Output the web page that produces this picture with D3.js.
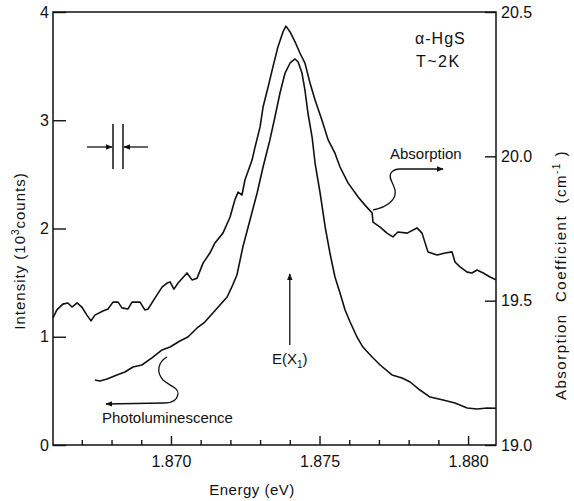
<!DOCTYPE html>
<html>
<head>
<meta charset="utf-8">
<script src="https://cdnjs.cloudflare.com/ajax/libs/d3/7.8.5/d3.min.js"></script>
<style>
  body { margin: 0; background: #fff; }
  svg { display: block; }
  text { font-family: "Liberation Sans", Arial, sans-serif; fill: #111; }
</style>
</head>
<body>
<div id="chart"></div>
<script>
// absorption trace: energy (eV) and coefficient (right axis)
const absEnergy = [1.86603, 1.86616, 1.86636, 1.86653, 1.86667, 1.86684, 1.86700, 1.86717, 1.86731, 1.86744,
  1.86771, 1.86788, 1.86805, 1.86822, 1.86835, 1.86855, 1.86869, 1.86896, 1.86912, 1.86923,
  1.86946, 1.86970, 1.86987, 1.86997, 1.87010, 1.87024, 1.87054, 1.87071, 1.87088, 1.87108,
  1.87131, 1.87148, 1.87175, 1.87199, 1.87215, 1.87226, 1.87239, 1.87249, 1.87273, 1.87283,
  1.87300, 1.87310, 1.87327, 1.87343, 1.87360, 1.87377, 1.87387, 1.87401, 1.87418, 1.87434,
  1.87451, 1.87468, 1.87485, 1.87508, 1.87529, 1.87552, 1.87569, 1.87596, 1.87630, 1.87653,
  1.87677, 1.87680, 1.87704, 1.87727, 1.87747, 1.87764, 1.87795, 1.87828, 1.87845, 1.87865,
  1.87896, 1.87923, 1.87946, 1.87956, 1.87973, 1.87997, 1.88013, 1.88030, 1.88051, 1.88074, 1.88094];
const absCoef = [19.440, 19.468, 19.488, 19.492, 19.478, 19.492, 19.478, 19.450, 19.430, 19.450,
  19.464, 19.471, 19.495, 19.495, 19.475, 19.471, 19.495, 19.495, 19.468, 19.471,
  19.509, 19.547, 19.561, 19.565, 19.540, 19.561, 19.596, 19.572, 19.578, 19.630,
  19.665, 19.700, 19.734, 19.790, 19.849, 19.876, 19.866, 19.918, 19.987, 20.032,
  20.102, 20.171, 20.240, 20.309, 20.379, 20.431, 20.451, 20.431, 20.396, 20.358,
  20.323, 20.254, 20.195, 20.126, 20.057, 20.011, 19.963, 19.908, 19.859, 19.831,
  19.804, 19.772, 19.755, 19.734, 19.721, 19.738, 19.734, 19.752, 19.734, 19.669,
  19.658, 19.665, 19.669, 19.634, 19.617, 19.599, 19.596, 19.606, 19.596, 19.582, 19.572];

// photoluminescence trace: energy (eV) and intensity (10^3 counts, left axis)
const plEnergy = [1.86744, 1.86761, 1.86785, 1.86818, 1.86845, 1.86872, 1.86902, 1.86936, 1.86970, 1.86997,
  1.87030, 1.87057, 1.87088, 1.87114, 1.87141, 1.87165, 1.87189, 1.87205, 1.87222, 1.87242,
  1.87266, 1.87290, 1.87310, 1.87333, 1.87350, 1.87367, 1.87384, 1.87401, 1.87418, 1.87428,
  1.87441, 1.87451, 1.87461, 1.87475, 1.87485, 1.87502, 1.87519, 1.87535, 1.87552, 1.87569,
  1.87586, 1.87603, 1.87626, 1.87646, 1.87677, 1.87704, 1.87744, 1.87778, 1.87805, 1.87838,
  1.87872, 1.87916, 1.87956, 1.87997, 1.88030, 1.88064, 1.88094];
const plIntensity = [0.600, 0.591, 0.610, 0.647, 0.674, 0.721, 0.739, 0.804, 0.878, 0.905,
  0.961, 0.998, 1.081, 1.136, 1.219, 1.293, 1.367, 1.460, 1.570, 1.829,
  2.079, 2.328, 2.568, 2.818, 3.030, 3.252, 3.436, 3.529, 3.566, 3.538,
  3.436, 3.279, 3.067, 2.845, 2.605, 2.328, 2.014, 1.774, 1.552, 1.404,
  1.247, 1.136, 0.998, 0.905, 0.813, 0.739, 0.647, 0.619, 0.582, 0.508,
  0.443, 0.416, 0.388, 0.342, 0.333, 0.342, 0.340];

const intensityTicks = [0, 1, 2, 3, 4];
const coefTicks = [19.0, 19.5, 20.0, 20.5];
const energyMajor = [1.870, 1.875, 1.880];
const energyMinor = [1.867, 1.868, 1.869, 1.871, 1.872, 1.873, 1.874, 1.876, 1.877, 1.878, 1.879];
const excitonEnergy = 1.8740;

const width = 574;
const height = 501;
const margin = { top: 12, right: 78, bottom: 56, left: 53 };

const x = d3.scaleLinear().domain([1.86603, 1.88094]).range([margin.left, width - margin.right]);
const y = d3.scaleLinear().domain([0, 4]).range([height - margin.bottom, margin.top]);
const yR = d3.scaleLinear().domain([19.0, 20.5]).range([height - margin.bottom, margin.top]);

const svg = d3.select("#chart")
    .append("svg")
    .attr("width", width)
    .attr("height", height);

// frame
svg.append("rect")
    .attr("x", margin.left)
    .attr("y", margin.top)
    .attr("width", width - margin.left - margin.right)
    .attr("height", height - margin.top - margin.bottom)
    .attr("fill", "none")
    .attr("stroke", "#111")
    .attr("stroke-width", 1.5);

function styleAxis(g) {
    g.select(".domain").remove();
    g.selectAll("line").attr("stroke", "#111").attr("stroke-width", 1.4);
    g.selectAll("text").attr("font-size", 16).attr("fill", "#111")
        .style("font-family", "'Liberation Sans', Arial, sans-serif");
}

svg.append("g")
    .attr("transform", `translate(${margin.left},0)`)
    .call(d3.axisLeft(y).tickValues(intensityTicks).tickSize(-13).tickPadding(4).tickFormat(d3.format("d")))
    .call(styleAxis);

svg.append("g")
    .attr("transform", `translate(${width - margin.right},0)`)
    .call(d3.axisRight(yR).tickValues(coefTicks).tickSize(-11).tickPadding(5).tickFormat(d3.format(".1f")))
    .call(styleAxis);

svg.append("g")
    .attr("transform", `translate(0,${height - margin.bottom})`)
    .call(d3.axisBottom(x).tickValues(energyMinor).tickSize(-5).tickFormat(""))
    .call(styleAxis);

svg.append("g")
    .attr("transform", `translate(0,${height - margin.bottom})`)
    .call(d3.axisBottom(x).tickValues(energyMajor).tickSize(-9).tickPadding(11).tickFormat(d3.format(".3f")))
    .call(styleAxis);

// axis titles
svg.append("text")
    .attr("transform", `translate(25,251) rotate(-90)`)
    .attr("text-anchor", "middle")
    .attr("font-size", 15)
    .attr("letter-spacing", 1)
    .html('Intensity (10<tspan dy="-6" font-size="10">3</tspan><tspan dy="6">counts)</tspan>');

svg.append("text")
    .attr("transform", `translate(566,275) rotate(-90)`)
    .attr("text-anchor", "middle")
    .attr("font-size", 15)
    .attr("letter-spacing", 1.5)
    .html('Absorption&#160; Coefficient&#160; (cm<tspan dy="-6" font-size="10">-1</tspan><tspan dy="6"> )</tspan>');

svg.append("text")
    .attr("x", 252)
    .attr("y", 495)
    .attr("text-anchor", "middle")
    .attr("font-size", 15)
    .attr("letter-spacing", 0.5)
    .text("Energy  (eV)");

// curves
const absLine = d3.line().x(d => x(d[0])).y(d => yR(d[1]));
const plLine = d3.line().x(d => x(d[0])).y(d => y(d[1]));

svg.append("path")
    .attr("d", absLine(d3.zip(absEnergy, absCoef)))
    .attr("fill", "none")
    .attr("stroke", "#111")
    .attr("stroke-width", 1.6)
    .attr("stroke-linejoin", "round");

svg.append("path")
    .attr("d", plLine(d3.zip(plEnergy, plIntensity)))
    .attr("fill", "none")
    .attr("stroke", "#111")
    .attr("stroke-width", 1.6)
    .attr("stroke-linejoin", "round");

// arrowhead
svg.append("defs").append("marker")
    .attr("id", "head")
    .attr("viewBox", "0 0 10 10")
    .attr("refX", 9)
    .attr("refY", 5)
    .attr("markerWidth", 7)
    .attr("markerHeight", 7)
    .attr("markerUnits", "userSpaceOnUse")
    .attr("orient", "auto")
    .append("path")
    .attr("d", "M0,1L10,5L0,9Z")
    .attr("fill", "#111");

function arrow(d) {
    svg.append("path")
        .attr("d", d)
        .attr("fill", "none")
        .attr("stroke", "#111")
        .attr("stroke-width", 1.3)
        .attr("marker-end", "url(#head)");
}

// labels and pointers
svg.append("text").attr("x", 415).attr("y", 44).attr("font-size", 16).attr("letter-spacing", 1).text("α-HgS");
svg.append("text").attr("x", 416).attr("y", 67).attr("font-size", 16).attr("letter-spacing", 1.5).text("T~2K");

svg.append("text").attr("x", 390).attr("y", 159).attr("font-size", 15).text("Absorption");
arrow("M373,210 C388,207 397,199 395,190 C393,182 388,178 391,173 C393,170 396,169 400,169 L443,169");

svg.append("text").attr("x", 102).attr("y", 423).attr("font-size", 15).text("Photoluminescence");
arrow("M167,357 C158,362 156,372 163,380 C170,386 179,388 178,394 C177,401 171,403 164,403 L106,404");

// exciton position marker
svg.append("line")
    .attr("x1", x(excitonEnergy)).attr("x2", x(excitonEnergy))
    .attr("y1", 345).attr("y2", 274)
    .attr("stroke", "#111")
    .attr("stroke-width", 1.3)
    .attr("marker-end", "url(#head)");
svg.append("text")
    .attr("x", x(excitonEnergy))
    .attr("y", 364)
    .attr("text-anchor", "middle")
    .attr("font-size", 15)
    .html('E(X<tspan dy="4" font-size="10">1</tspan><tspan dy="-4">)</tspan>');

// spectral resolution marker
[113, 123].forEach(px => {
    svg.append("line").attr("x1", px).attr("x2", px).attr("y1", 124).attr("y2", 169)
        .attr("stroke", "#111").attr("stroke-width", 1.5);
});
arrow("M87,147 L112,147");
arrow("M148,147 L124,147");
</script>
</body>
</html>
